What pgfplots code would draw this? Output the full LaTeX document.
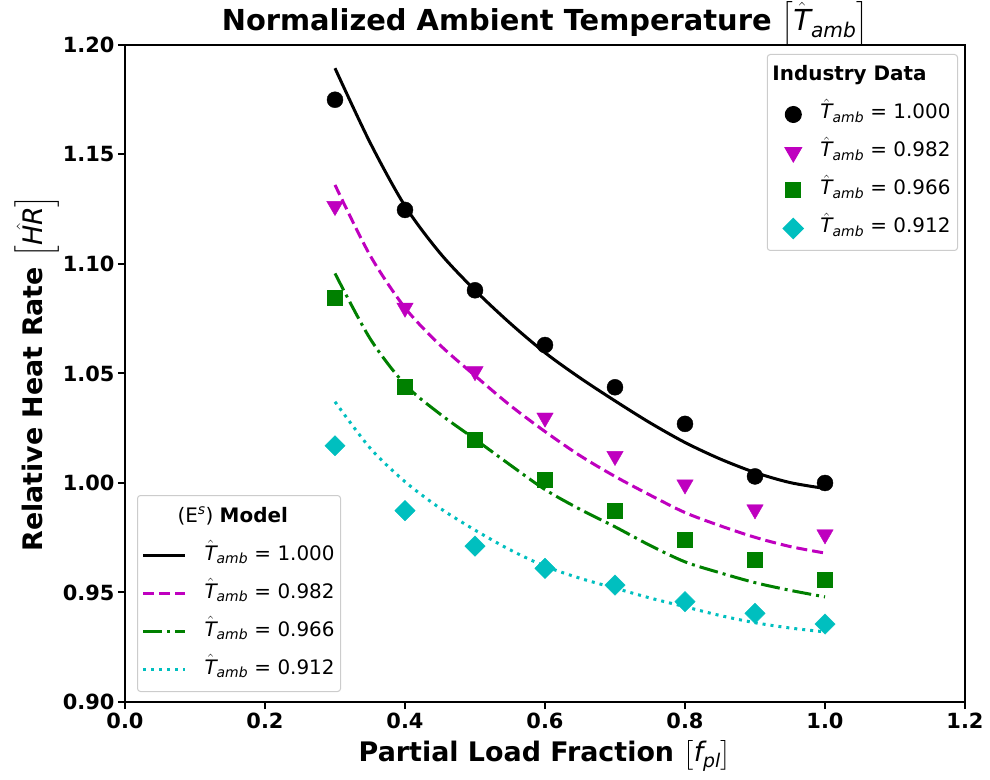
\documentclass[border=0pt]{standalone}
\usepackage{fontspec}
\setmainfont{DejaVu Sans}
\usepackage{amsmath}
\usepackage{pgfplots}
\pgfplotsset{compat=1.18}
\definecolor{mplm}{rgb}{0.75,0,0.75}
\definecolor{mplg}{rgb}{0,0.5,0}
\definecolor{mplc}{rgb}{0,0.75,0.75}
\newcommand\mi[1]{\text{\normalfont\itshape #1}}
\newcommand\Tamb{$\hat{\mi{T}}_{\mi{amb}}$}

\pgfplotstableread{
x y
0.30 1.1894
0.35 1.1555
0.40 1.1265
0.45 1.1050
0.50 1.0880
0.55 1.0730
0.60 1.0595
0.65 1.0480
0.70 1.0375
0.75 1.0275
0.80 1.0185
0.85 1.0110
0.90 1.0048
0.95 1.0002
1.00 0.9975
}\modelA
\pgfplotstableread{
x y
0.30 1.1361
0.35 1.1040
0.40 1.0800
0.45 1.0630
0.50 1.0490
0.55 1.0355
0.60 1.0235
0.65 1.0125
0.70 1.0030
0.75 0.9945
0.80 0.9865
0.85 0.9805
0.90 0.9752
0.95 0.9710
1.00 0.9680
}\modelB
\pgfplotstableread{
x y
0.30 1.0957
0.35 1.0660
0.40 1.0450
0.45 1.0315
0.50 1.0200
0.55 1.0083
0.60 0.9970
0.65 0.9880
0.70 0.9800
0.75 0.9715
0.80 0.9640
0.85 0.9590
0.90 0.9545
0.95 0.9510
1.00 0.9480
}\modelC
\pgfplotstableread{
x y
0.30 1.0371
0.35 1.0160
0.40 1.0006
0.45 0.9885
0.50 0.9785
0.55 0.9695
0.60 0.9620
0.65 0.9565
0.70 0.9520
0.75 0.9475
0.80 0.9435
0.85 0.9395
0.90 0.9362
0.95 0.9338
1.00 0.9320
}\modelD
\pgfplotstableread{
x y
0.3 1.1750
0.4 1.1247
0.5 1.0880
0.6 1.0630
0.7 1.0437
0.8 1.0270
0.9 1.0030
1.0 1.0000
}\dataA
\pgfplotstableread{
x y
0.3 1.1264
0.4 1.0800
0.5 1.0510
0.6 1.0298
0.7 1.0123
0.8 0.9993
0.9 0.9879
1.0 0.9765
}\dataB
\pgfplotstableread{
x y
0.3 1.0846
0.4 1.0440
0.5 1.0196
0.6 1.0014
0.7 0.9872
0.8 0.9743
0.9 0.9652
1.0 0.9560
}\dataC
\pgfplotstableread{
x y
0.3 1.0170
0.4 0.9874
0.5 0.9712
0.6 0.9610
0.7 0.9534
0.8 0.9458
0.9 0.9405
1.0 0.9356
}\dataD

\pgfplotsset{
  common/.style={
    scale only axis, width=840bp, height=657bp,
    xmin=0, xmax=1.2, ymin=0.9, ymax=1.2,
  },
  leg/.style={
    legend cell align=left,
    legend style={draw=black!20, line width=1bp, rounded corners=3bp,
      fill=white,
      font=\fontsize{20}{24}\selectfont,
      inner xsep=4bp, inner ysep=3bp,
      nodes={inner ysep=8.5bp, text height=15bp, text depth=6bp},
      /tikz/every odd column/.append style={column sep=#1},
      /tikz/every even column/.append style={column sep=0bp}},
  },
}

\begin{document}
\begin{tikzpicture}
% model curves and their legend
\begin{axis}[common, hide axis, leg=16bp,
  legend style={at={(0.0143,0.0152)}, anchor=south west},
  legend image code/.code={\draw[#1] (0bp,0bp) -- (42bp,0bp);},
]
\addlegendimage{empty legend}
\addlegendentry{\hspace{-27bp}(E$^{\mi{s}}$) \textbf{Model}}
\addplot[black, line width=3bp, smooth] table {\modelA};
\addlegendentry{\Tamb{} = 1.000}
\addplot[mplm, line width=3bp, smooth, dash pattern=on 11bp off 5bp] table {\modelB};
\addlegendentry{\Tamb{} = 0.982}
\addplot[mplg, line width=3bp, smooth, dash pattern=on 19bp off 5bp on 3bp off 5bp] table {\modelC};
\addlegendentry{\Tamb{} = 0.966}
\addplot[mplc, line width=3bp, smooth, dash pattern=on 3bp off 5bp] table {\modelD};
\addlegendentry{\Tamb{} = 0.912}
\end{axis}
% industry data and frame
\begin{axis}[common, leg=15bp,
  axis line style={line width=2.5bp},
  tick align=outside, tick pos=left,
  major tick length=7bp,
  every tick/.style={black, line width=2bp},
  xtick={0,0.2,...,1.2}, ytick={0.9,0.95,...,1.21},
  xticklabel style={/pgf/number format/.cd, fixed, fixed zerofill, precision=1},
  yticklabel style={/pgf/number format/.cd, fixed, fixed zerofill, precision=2},
  /pgf/number format/assume math mode=true,
  ticklabel style={font=\fontsize{21}{25}\selectfont\bfseries},
  xlabel={\bfseries Partial Load Fraction $\left[\mi{f}_{\mi{pl}}\right]$},
  ylabel={\bfseries Relative Heat Rate $\left[\hat{\mi{HR}}\right]$},
  label style={font=\fontsize{27}{32}\selectfont},
  xlabel style={yshift=-5bp},
  ylabel style={yshift=-3bp},
  title={\bfseries Normalized Ambient Temperature $\left[\hat{\mi{T}}_{\mi{amb}}\right]$},
  title style={font=\fontsize{29}{34}\selectfont, yshift=-11bp},
  legend style={at={(0.9917,0.9863)}, anchor=north east, inner xsep=5bp},
  legend image code/.code={\draw[mark repeat=2,mark phase=2,#1] plot coordinates {(0bp,0bp) (21bp,0bp) (42bp,0bp)};},
]
\addlegendimage{empty legend}
\addlegendentry{\hspace{-48bp}\textbf{Industry Data}}
\addplot[only marks, mark=*, mark size=8bp, black] table {\dataA};
\addlegendentry{\Tamb{} = 1.000}
\addplot[only marks, mark=triangle*, mark size=9.5bp, mplm, mark options={rotate=180}] table {\dataB};
\addlegendentry{\Tamb{} = 0.982}
\addplot[only marks, mark=square*, mark size=7.5bp, mplg] table {\dataC};
\addlegendentry{\Tamb{} = 0.966}
\addplot[only marks, mark=square*, mark size=7.2bp, mplc, mark options={rotate=45}] table {\dataD};
\addlegendentry{\Tamb{} = 0.912}
\end{axis}
\pgfresetboundingbox
\path (current axis.south west) ++(-125bp,-78bp) rectangle ++(990bp,780bp);
\end{tikzpicture}
\end{document}
